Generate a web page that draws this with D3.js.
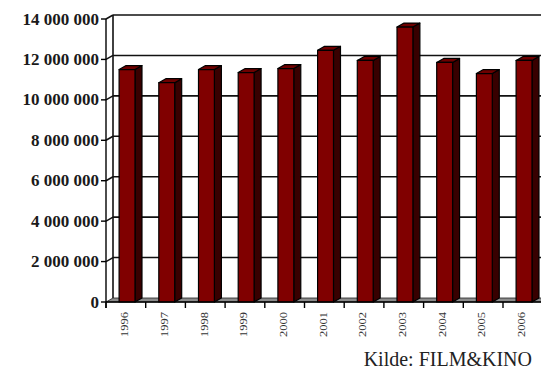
<!DOCTYPE html>
<html>
<head>
<meta charset="utf-8">
<script src="https://cdn.jsdelivr.net/npm/d3@7"></script>
<style>
  html, body { margin: 0; padding: 0; background: #fff; }
  svg { display: block; }
</style>
</head>
<body>
<svg id="chart" width="541" height="370"></svg>
<script>
// ---- data ----
const years = ["1996","1997","1998","1999","2000","2001","2002","2003","2004","2005","2006"];
const admissions = [11500000, 10850000, 11500000, 11350000, 11550000, 12450000, 11950000, 13600000, 11850000, 11300000, 11950000];
const yTicks = [0, 2000000, 4000000, 6000000, 8000000, 10000000, 12000000, 14000000];
const sourceNote = "Kilde: FILM&KINO";

// ---- layout ----
const svg = d3.select("#chart");
const W = 541;
const axisX = 106;
const floorY = 302;
const topY = 19;
const dx = 7, dy = -4;          // 3-D depth offset
const catW = 39.7;

const y = d3.scaleLinear().domain([0, 14000000]).range([floorY, topY]);
const x = d3.scaleBand().domain(years).range([axisX, axisX + years.length * catW]).padding(0);
const bw = x.bandwidth();
const barOff = bw * 0.33, barW = bw * 0.40;

const fmt = v => d3.format(",")(v).replace(/,/g, " ");

// back wall
svg.append("rect")
  .attr("x", axisX + dx).attr("y", y(14000000) + dy)
  .attr("width", W - axisX - dx + 5).attr("height", floorY - y(14000000))
  .attr("fill", "#fff");

// gridlines on back wall and left side wall
const grid = svg.append("g").attr("stroke", "#111").attr("stroke-width", 1.6).attr("fill", "none");
yTicks.filter(t => t > 0).forEach(t => {
  grid.append("line")
    .attr("x1", axisX + dx).attr("x2", W + 5)
    .attr("y1", y(t) + dy).attr("y2", y(t) + dy);
  grid.append("line")
    .attr("x1", axisX).attr("x2", axisX + dx)
    .attr("y1", y(t)).attr("y2", y(t) + dy);
});
// back-left corner line
grid.append("line")
  .attr("x1", axisX + dx).attr("x2", axisX + dx)
  .attr("y1", y(14000000) + dy).attr("y2", floorY + dy);

// floor
svg.append("path")
  .attr("d", d3.line()([[axisX, floorY], [axisX + dx, floorY + dy], [W + 5, floorY + dy], [W + 5, floorY]]) + "Z")
  .attr("fill", "#8c8c8c").attr("stroke", "#222").attr("stroke-width", 0.8);

// bars
const bars = svg.append("g").attr("stroke", "#000").attr("stroke-width", 1.2).attr("stroke-linejoin", "round");
years.forEach((yr, i) => {
  const v = admissions[i];
  const x0 = x(yr) + barOff, x1 = x0 + barW;
  const yt = y(v), yb = y(0);
  // side face
  bars.append("path")
    .attr("d", d3.line()([[x1, yt], [x1 + dx, yt + dy], [x1 + dx, yb + dy], [x1, yb]]) + "Z")
    .attr("fill", "#380000");
  // top face
  bars.append("path")
    .attr("d", d3.line()([[x0, yt], [x0 + dx, yt + dy], [x1 + dx, yt + dy], [x1, yt]]) + "Z")
    .attr("fill", "#6e0000");
  // front face
  bars.append("rect")
    .attr("x", x0).attr("y", yt).attr("width", barW).attr("height", yb - yt)
    .attr("fill", "#800000");
});

// front x axis line
svg.append("line")
  .attr("x1", axisX).attr("x2", W + 5).attr("y1", floorY).attr("y2", floorY)
  .attr("stroke", "#000").attr("stroke-width", 1.4);

// x ticks at category boundaries
const xt = svg.append("g").attr("stroke", "#000").attr("stroke-width", 1.4);
d3.range(years.length + 1).forEach(i => {
  const px = axisX + i * catW;
  xt.append("line").attr("x1", px).attr("x2", px).attr("y1", floorY).attr("y2", floorY + 6);
});

// y axis line and ticks
svg.append("line")
  .attr("x1", axisX).attr("x2", axisX).attr("y1", y(14000000)).attr("y2", floorY + 6)
  .attr("stroke", "#000").attr("stroke-width", 1.4);
const yg = svg.append("g");
yTicks.forEach(t => {
  yg.append("line").attr("x1", axisX - 5).attr("x2", axisX).attr("y1", y(t)).attr("y2", y(t))
    .attr("stroke", "#000").attr("stroke-width", 1.4);
  yg.append("text")
    .attr("x", axisX - 7).attr("y", y(t)).attr("dy", "0.33em")
    .attr("text-anchor", "end")
    .attr("font-family", "'Liberation Serif', 'DejaVu Serif', serif")
    .attr("font-weight", "bold").attr("font-size", 17)
    .attr("fill", "#1a1a1a")
    .text(fmt(t));
});

// year labels (rotated)
years.forEach(yr => {
  const cx = x(yr) + bw / 2 - 1;
  svg.append("text")
    .attr("transform", `translate(${cx},${floorY + 10}) rotate(-90)`)
    .attr("dy", "0.33em")
    .attr("text-anchor", "end")
    .attr("font-family", "'Liberation Serif', serif")
    .attr("font-size", 10)
    .attr("textLength", 25).attr("lengthAdjust", "spacingAndGlyphs")
    .attr("fill", "#333")
    .text(yr);
});

// source note
svg.append("text")
  .attr("x", 532).attr("y", 366)
  .attr("text-anchor", "end")
  .attr("font-family", "'Liberation Serif', serif")
  .attr("font-size", 20)
  .attr("fill", "#222")
  .text(sourceNote);
</script>
</body>
</html>
